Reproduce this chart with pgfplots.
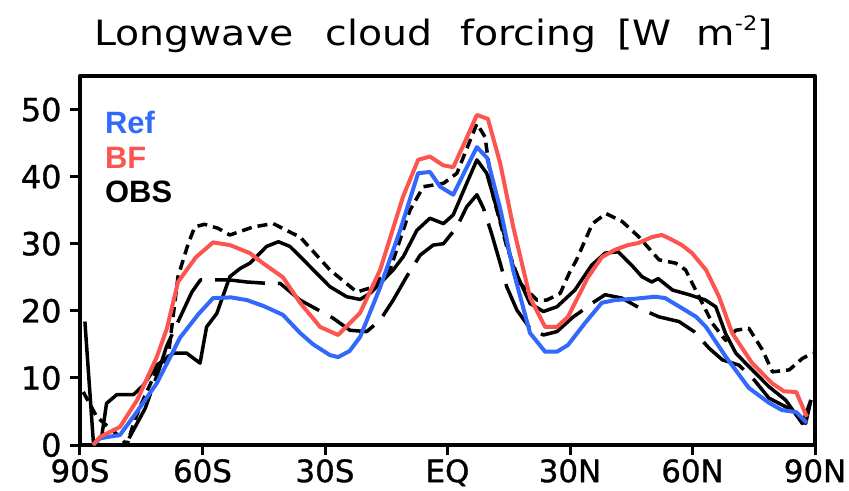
\documentclass[border=0pt]{standalone}
\usepackage{pgfplots}
\pgfplotsset{compat=1.18}
\usepackage{fontspec}
\setmainfont{Liberation Sans}
\newfontfamily\tickfont[FakeBold=1]{DejaVu Sans}
\newfontfamily\titlefont[FakeStretch=1.13]{DejaVu Sans}
\definecolor{refblue}{RGB}{50,105,250}
\definecolor{bfred}{RGB}{252,85,80}
\begin{document}
\begin{tikzpicture}
\begin{axis}[
  scale only axis, width=735bp, height=369bp,
  xmin=-90, xmax=90, ymin=0, ymax=55,
  xtick={-90,-60,-30,0,30,60,90},
  xticklabels={90S,60S,30S,EQ,30N,60N,90N},
  ytick={0,10,20,30,40,50},
  tick align=outside, xtick pos=bottom, ytick pos=left,
  major tick length=10bp,
  every tick/.style={line width=3bp, black},
  axis line style={line width=4.5bp},
  ticklabel style={font=\tickfont\fontsize{32}{36}\selectfont},
  xticklabel style={inner sep=0pt, yshift=-4bp, font=\tickfont\fontsize{31}{34}\selectfont},
  yticklabel style={xshift=-5bp},
  /pgf/number format/assume math mode=true,
  line join=round,
]
% short-dashed black
\addplot[black, line width=3.5bp, dash pattern=on 10bp off 6bp] coordinates {
(-89.2,7.9) (-85.9,4.2) (-82.7,2.5) (-80.2,1.2) (-78.5,0) (-77,3) (-75.3,5.7) (-71.2,11.2) (-68.4,13.2) (-66,25.1) (-63.5,30) (-61.9,32.5) (-59.5,32.9) (-56.2,32.3) (-53.3,31.3) (-47.6,32.5) (-42.7,33) (-37.8,31.5) (-36.1,31) (-28.8,26.1) (-22.2,22.8) (-19,23.4) (-14.1,26.1) (-9.2,35) (-5.9,38.5) (-1,39) (2.3,40.5) (7.2,47.9) (9.2,45.9) (11.2,37) (14.5,29.6) (17.8,24.1) (21.9,21.6) (24.3,21.6) (27.6,22.6) (29.8,25.6) (31.6,27.6) (35.5,33) (38.8,34.5) (42.8,33.3) (46.9,31) (51.8,27.6) (55.9,27.1) (58.3,26.1) (61.6,22.1) (64.9,18.1) (68.1,15.6) (70.6,17.1) (73.8,17.4) (77.1,14.2) (79.6,10.9) (83.7,11.2) (86.9,12.9) (89.4,13.7)
};
% long-dashed black
\addplot[black, line width=3.5bp, dash pattern=on 50bp off 13bp] coordinates {
(-78,1) (-74,5.5) (-70.5,11.5) (-68.8,14.7) (-62.6,22.8) (-60.5,24.6) (-58.6,24.6) (-53.3,24.6) (-49.2,24.3) (-44.3,24.1) (-41,24.1) (-36.1,21.6) (-28,18.9) (-23.9,17.1) (-19.8,16.9) (-16.5,18.6) (-13.3,21.6) (-10,25.1) (-6.7,28.3) (-3.5,29.8) (-1,30) (2.3,32.5) (4.7,35.5) (7.2,37.3) (8.8,35.3) (10.8,31.5) (12.9,27.1) (14.5,23.6) (17,20.1) (20.2,17.4) (23.5,16.4) (26.8,16.9) (30.8,19.1) (32,19.6) (35.3,21.1) (38.6,22.4) (42.7,21.9) (48,20.1) (51.8,19.1) (56.7,18.4) (60.4,16.9) (64.1,14.4) (67.3,12.7) (71.4,11.9) (75.1,9.7) (78.7,7) (82.8,5.7) (86.1,4.5) (87.7,3.2) (89,6.7)
};
% solid black (OBS)
\addplot[black, line width=3.5bp] coordinates {
(-88.8,18.4) (-86.7,0.2) (-84.7,1.2) (-83.5,6.2) (-81,7.5) (-76.9,7.5) (-74.5,8.9) (-71.2,11.9) (-67.1,13.7) (-63.9,13.7) (-60.6,12.2) (-59,17.6) (-56.5,19.6) (-53.3,25.1) (-50.8,26.3) (-48.4,27.1) (-44.3,29.6) (-41.4,30.3) (-38.6,29.6) (-36.1,28.1) (-28.8,23.6) (-24.7,22.1) (-21.4,21.7) (-19,22.6) (-16.5,24.1) (-13.3,26.1) (-10.8,28.1) (-7.5,32) (-4.3,33.8) (-1,33) (1.4,34.3) (4.7,39) (7.2,42.5) (9.6,40.5) (12.9,33.5) (16.1,26.6) (20.2,21.1) (23.5,19.9) (26.8,20.6) (31.2,23.1) (35.3,26.8) (38.6,28.6) (41.8,28.8) (45.1,26.8) (47.6,25.1) (50,24.3) (51.6,24.8) (55.1,23.1) (59.2,22.4) (63.2,21.6) (65.7,20.6) (68.1,16.6) (70.6,13.7) (73.8,11.7) (78.7,8.7) (82.8,6.7) (86.9,3.2) (89,6.7)
};
% Ref (blue)
\addplot[refblue, line width=4bp] coordinates {
(-86.8,0) (-85.1,1) (-80.2,1.5) (-76,5) (-71.2,9.2) (-68,13) (-65.5,16) (-61,19.5) (-57.4,21.9) (-53,22) (-49.1,21.6) (-45,20.7) (-40.3,19.4) (-36.1,16.7) (-32.9,15.0) (-28.8,13.4) (-26.8,13.1) (-24,14) (-21.4,16.1) (-16.5,23.5) (-11.6,32) (-7.2,40.5) (-4.3,40.7) (-1.8,38.5) (1.4,37.3) (4,40.5) (7.2,44.4) (9.7,42.8) (13,35) (16.1,26) (20.2,16.7) (23.9,13.9) (26.8,13.9) (29.5,14.9) (33.7,18.2) (37.8,21.2) (41,21.6) (45.9,21.8) (50.8,22.1) (53.3,21.9) (57.4,20.4) (60.9,19.1) (63.3,17.6) (68.2,13.1) (73.8,8.5) (78.7,6.3) (81.9,5.2) (85.4,4.9) (88,3.3)
};
% BF (red)
\addplot[bfred, line width=4bp] coordinates {
(-86.8,0) (-85.1,1.2) (-80.2,2.7) (-76,6.7) (-71.2,13.1) (-68.7,17.4) (-66,24.3) (-61.6,28) (-57.4,30.2) (-53.3,29.8) (-48.4,28.6) (-45.2,27.1) (-40.3,25) (-36.1,21.2) (-31.2,17.6) (-26.8,16.4) (-21.4,19.7) (-16.5,26.1) (-10.9,37) (-7.2,42.5) (-4.3,43) (-1.1,41.7) (1.4,41.4) (4.5,45.5) (7.2,49.2) (9.9,48.6) (12.9,42) (16.1,32.5) (20.2,22) (23.9,17.6) (26.8,17.6) (29.5,19.1) (34.4,25) (37.8,28) (41,29.1) (44.2,29.8) (46.7,30.1) (50.1,31) (52.5,31.3) (54.3,30.8) (57.4,29.8) (59.9,28.6) (63.3,26.1) (66.5,22.1) (69.7,16.7) (74.6,12.2) (79.5,9.2) (82.4,8) (85.4,7.9) (88,4.2)
};
\node[anchor=west, font=\bfseries\fontsize{31}{34}\selectfont, text=refblue, inner sep=0pt] at (rel axis cs:0.034,0.873) {Ref};
\node[anchor=west, font=\bfseries\fontsize{31}{34}\selectfont, text=bfred, inner sep=0pt] at (rel axis cs:0.034,0.778) {BF};
\node[anchor=west, font=\bfseries\fontsize{31}{34}\selectfont, text=black, inner sep=0pt] at (rel axis cs:0.034,0.686) {OBS};
\end{axis}
\node[anchor=base, font=\titlefont\fontsize{35}{40}\selectfont, inner sep=0pt] at ([xshift=-14bp,yshift=31bp]current axis.north) {Longwave\hspace{32bp}cloud\hspace{28bp}forcing\hspace{21bp}[W\hspace{25bp}m\raisebox{0.42em}{\fontsize{20}{21}\selectfont -2}]};
\pgfresetboundingbox
\path ([shift={(-80bp,-46bp)}]current axis.south west) rectangle ([shift={(34bp,76bp)}]current axis.north east);
\end{tikzpicture}
\end{document}
